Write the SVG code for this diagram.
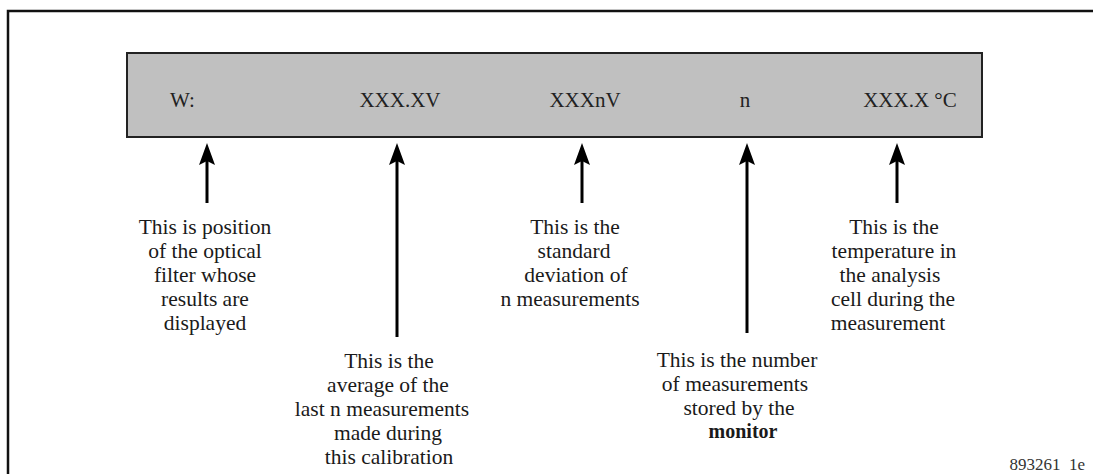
<svg xmlns="http://www.w3.org/2000/svg" width="1093" height="474" viewBox="0 0 1093 474">
<style>
  .frame{fill:none;stroke:#111;stroke-width:2.5}
  .box{fill:#c0c0c0;stroke:#222;stroke-width:2}
  .disp{font-family:"Liberation Serif","Times New Roman",serif;font-size:21px;fill:#222}
  .note{font-family:"Liberation Serif","Times New Roman",serif;font-size:21.5px;fill:#1a1a1a;text-anchor:middle}
  .bold{font-weight:bold;font-size:20px}
  .shaft{stroke:#000;stroke-width:3;fill:none}
  .head{fill:#000}
  .ref{font-family:"Liberation Serif","Times New Roman",serif;font-size:17px;fill:#333;text-anchor:end}
</style>
<rect class="frame" x="8" y="11" width="1100" height="480"/>
<g id="display">
  <rect class="box" x="127" y="53" width="855" height="84"/>
  <text class="disp" x="170" y="107">W:</text>
  <text class="disp" x="400" y="107" text-anchor="middle">XXX.XV</text>
  <text class="disp" x="585" y="107" text-anchor="middle">XXXnV</text>
  <text class="disp" x="745" y="107" text-anchor="middle">n</text>
  <text class="disp" x="910" y="107" text-anchor="middle">XXX.X °C</text>
</g>
<g id="connectors">
  <line class="shaft" x1="207" y1="203" x2="207" y2="160"/>
  <polygon class="head" points="207,143 215,165 207,161 199,165"/>
  <line class="shaft" x1="397" y1="337" x2="397" y2="160"/>
  <polygon class="head" points="397,143 405,165 397,161 389,165"/>
  <line class="shaft" x1="582" y1="203" x2="582" y2="160"/>
  <polygon class="head" points="582,143 590,165 582,161 574,165"/>
  <line class="shaft" x1="747" y1="333" x2="747" y2="160"/>
  <polygon class="head" points="747,143 755,165 747,161 739,165"/>
  <line class="shaft" x1="897" y1="203" x2="897" y2="160"/>
  <polygon class="head" points="897,143 905,165 897,161 889,165"/>
</g>
<g id="note-position">
  <text class="note" x="205" y="234">This is position</text>
  <text class="note" x="205" y="258">of the optical</text>
  <text class="note" x="205" y="282">filter whose</text>
  <text class="note" x="205" y="306">results are</text>
  <text class="note" x="205" y="330">displayed</text>
</g>
<g id="note-average">
  <text class="note" x="389" y="368">This is the</text>
  <text class="note" x="388" y="392">average of the</text>
  <text class="note" x="382" y="416">last n measurements</text>
  <text class="note" x="388" y="440">made during</text>
  <text class="note" x="389" y="464">this calibration</text>
</g>
<g id="note-deviation">
  <text class="note" x="575" y="234">This is the</text>
  <text class="note" x="574" y="258">standard</text>
  <text class="note" x="576" y="282">deviation of</text>
  <text class="note" x="570" y="306">n measurements</text>
</g>
<g id="note-number">
  <text class="note" x="737" y="367">This is the number</text>
  <text class="note" x="735" y="391">of measurements</text>
  <text class="note" x="739" y="415">stored by the</text>
  <text class="note bold" x="743" y="438">monitor</text>
</g>
<g id="note-temperature">
  <text class="note" x="894" y="234">This is the</text>
  <text class="note" x="894" y="258">temperature in</text>
  <text class="note" x="890" y="282">the analysis</text>
  <text class="note" x="893" y="306">cell during the</text>
  <text class="note" x="888" y="330">measurement</text>
</g>
<text class="ref" x="1085" y="470" xml:space="preserve">893261  1e</text>
</svg>
